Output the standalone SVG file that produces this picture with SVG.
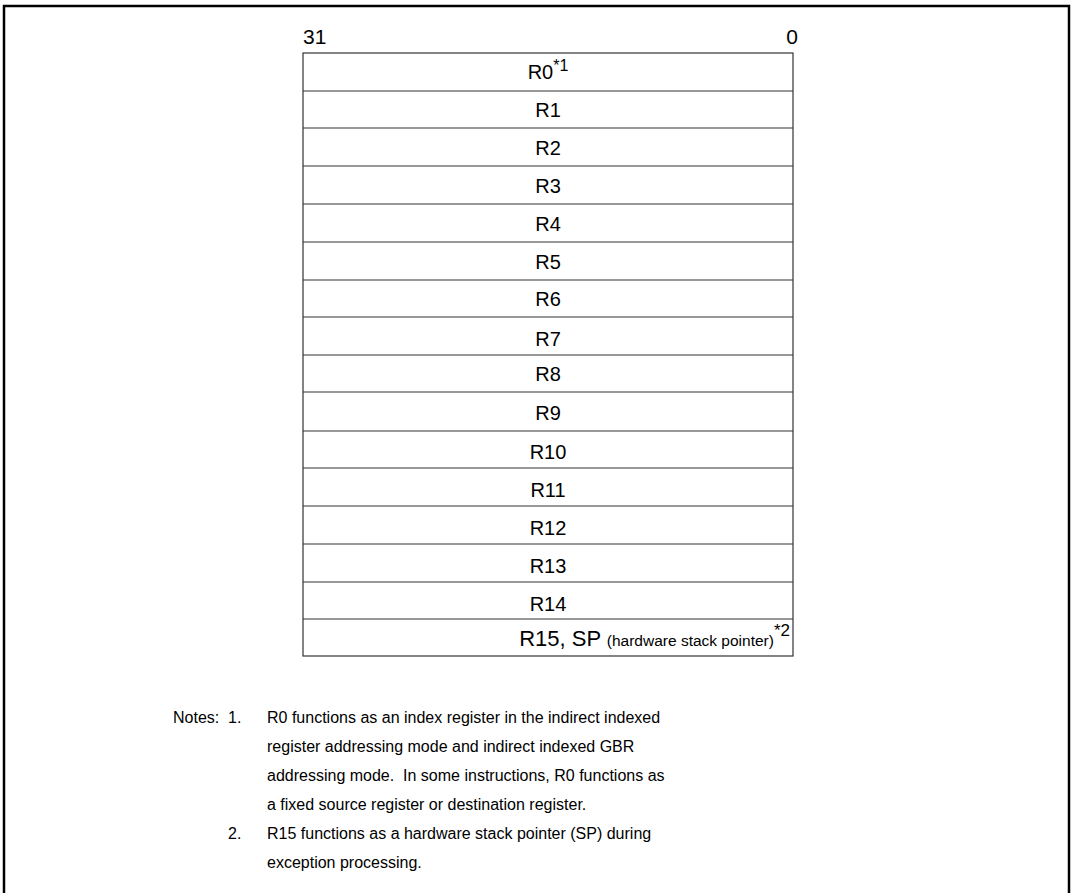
<svg xmlns="http://www.w3.org/2000/svg" width="1073" height="893" viewBox="0 0 1073 893">
<style>
text{font-family:"Liberation Sans",Arial,sans-serif;fill:#000}
.reg{font-size:20px;text-anchor:middle}
.note{font-size:16px}
.row{stroke:#333;stroke-width:1.2;fill:none}
</style>
<rect x="0" y="0" width="1073" height="893" fill="#fff"/>
<rect id="frame" x="4" y="6" width="1065" height="900" fill="none" stroke="#000" stroke-width="2.5"/>
<g id="header">
<text x="303" y="44" font-size="21">31</text>
<text x="798" y="44" font-size="21" text-anchor="end">0</text>
</g>
<g id="registers">
<rect x="303" y="53" width="490" height="603" class="row"/>
<g class="row">
<line x1="303" y1="91" x2="793" y2="91"/>
<line x1="303" y1="128" x2="793" y2="128"/>
<line x1="303" y1="166" x2="793" y2="166"/>
<line x1="303" y1="204" x2="793" y2="204"/>
<line x1="303" y1="242" x2="793" y2="242"/>
<line x1="303" y1="280" x2="793" y2="280"/>
<line x1="303" y1="317" x2="793" y2="317"/>
<line x1="303" y1="355" x2="793" y2="355"/>
<line x1="303" y1="392" x2="793" y2="392"/>
<line x1="303" y1="431" x2="793" y2="431"/>
<line x1="303" y1="468" x2="793" y2="468"/>
<line x1="303" y1="506" x2="793" y2="506"/>
<line x1="303" y1="544" x2="793" y2="544"/>
<line x1="303" y1="582" x2="793" y2="582"/>
<line x1="303" y1="619" x2="793" y2="619"/>
</g>
<g id="r0"><text class="reg" x="548" y="79">R0<tspan font-size="16" dy="-8">*1</tspan></text></g>
<g id="r1"><text class="reg" x="548" y="117">R1</text></g>
<g id="r2"><text class="reg" x="548" y="155">R2</text></g>
<g id="r3"><text class="reg" x="548" y="193">R3</text></g>
<g id="r4"><text class="reg" x="548" y="231">R4</text></g>
<g id="r5"><text class="reg" x="548" y="269">R5</text></g>
<g id="r6"><text class="reg" x="548" y="306">R6</text></g>
<g id="r7"><text class="reg" x="548" y="346">R7</text></g>
<g id="r8"><text class="reg" x="548" y="381">R8</text></g>
<g id="r9"><text class="reg" x="548" y="420">R9</text></g>
<g id="r10"><text class="reg" x="548" y="459">R10</text></g>
<g id="r11"><text class="reg" x="548" y="497">R11</text></g>
<g id="r12"><text class="reg" x="548" y="535">R12</text></g>
<g id="r13"><text class="reg" x="548" y="573">R13</text></g>
<g id="r14"><text class="reg" x="548" y="611">R14</text></g>
<g id="r15"><text x="790" y="646" font-size="22" text-anchor="end">R15, SP <tspan font-size="15.5">(hardware stack pointer)</tspan><tspan font-size="17" dy="-10">*2</tspan></text></g>
</g>
<g id="notes">
<text class="note" x="173" y="723">Notes:</text>
<text class="note" x="228" y="723">1.</text>
<text class="note" x="267" y="723">R0 functions as an index register in the indirect indexed</text>
<text class="note" x="267" y="752">register addressing mode and indirect indexed GBR</text>
<text class="note" x="267" y="781">addressing mode.&#160; In some instructions, R0 functions as</text>
<text class="note" x="267" y="810">a fixed source register or destination register.</text>
<text class="note" x="228" y="839">2.</text>
<text class="note" x="267" y="839">R15 functions as a hardware stack pointer (SP) during</text>
<text class="note" x="267" y="868">exception processing.</text>
</g>
</svg>
